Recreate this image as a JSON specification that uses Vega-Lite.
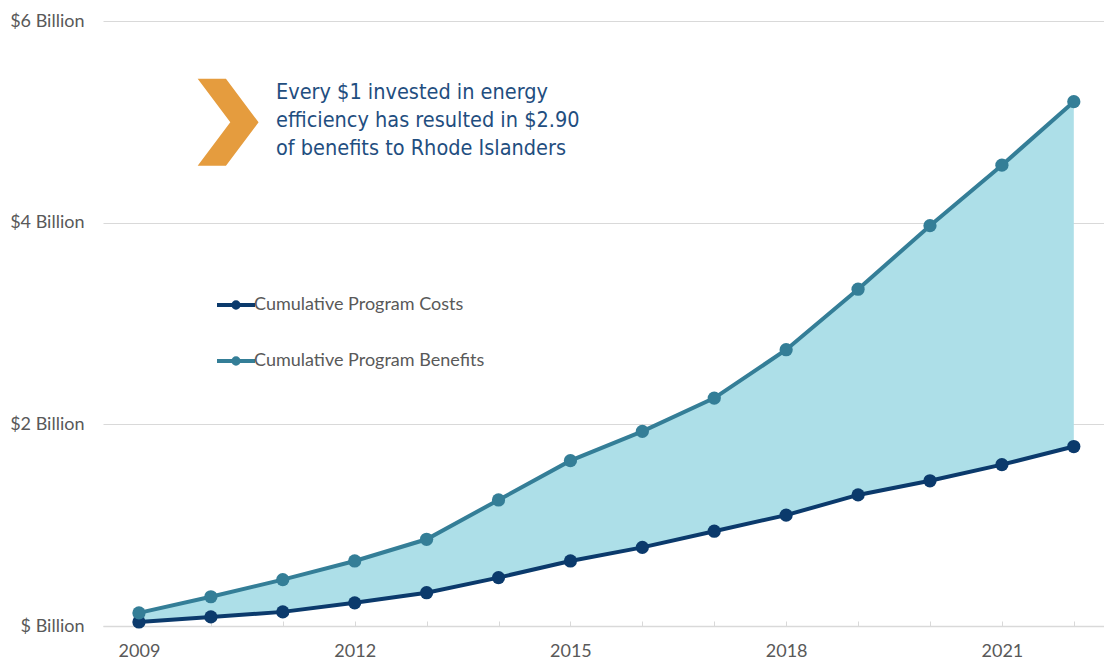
{
  "$schema": "https://vega.github.io/schema/vega-lite/v6.json",
  "width": 1001,
  "height": 605,
  "autosize": {"type": "none"},
  "padding": {"left": 103, "top": 21, "right": 0, "bottom": 35},
  "background": "white",
  "config": {"view": {"stroke": null}, "font": "Lato"},
  "datasets": {
    "wide": [
      {"year": 2009, "costs": 0.04, "benefits": 0.13},
      {"year": 2010, "costs": 0.09, "benefits": 0.29},
      {"year": 2011, "costs": 0.14, "benefits": 0.46},
      {"year": 2012, "costs": 0.23, "benefits": 0.645},
      {"year": 2013, "costs": 0.33, "benefits": 0.86},
      {"year": 2014, "costs": 0.48, "benefits": 1.25},
      {"year": 2015, "costs": 0.645, "benefits": 1.64},
      {"year": 2016, "costs": 0.78, "benefits": 1.93},
      {"year": 2017, "costs": 0.94, "benefits": 2.26},
      {"year": 2018, "costs": 1.10, "benefits": 2.74},
      {"year": 2019, "costs": 1.30, "benefits": 3.34},
      {"year": 2020, "costs": 1.44, "benefits": 3.97},
      {"year": 2021, "costs": 1.60, "benefits": 4.57},
      {"year": 2022, "costs": 1.78, "benefits": 5.20}
    ],
    "chev": [{"x": 2010.24, "y": 4.995}],
    "note": [{"x": 2010.906, "y": 5.286, "label": ["Every $1 invested in energy", "efficiency has resulted in $2.90", "of benefits to Rhode Islanders"]}]
  },
  "layer": [
    {
      "data": {"name": "wide"},
      "mark": {"type": "area", "color": "#ADDFE8", "opacity": 1},
      "encoding": {
        "x": {
          "field": "year", "type": "quantitative",
          "scale": {"domain": [2008.5, 2022.42], "nice": false, "zero": false},
          "axis": {
            "title": null, "grid": false, "format": "d",
            "values": [2009, 2010, 2011, 2012, 2013, 2014, 2015, 2016, 2017, 2018, 2019, 2020, 2021, 2022],
            "labelExpr": "(datum.value - 2009) % 3 == 0 ? datum.label : ''",
            "domainColor": "#d9d9d9", "domainWidth": 1.5,
            "tickColor": "#d9d9d9", "tickSize": -5,
            "labelFontSize": 18, "labelColor": "#595959", "labelPadding": 21, "labelFont": "Lato"
          }
        },
        "y": {
          "field": "benefits", "type": "quantitative",
          "scale": {"domain": [0, 6], "nice": false},
          "axis": {
            "title": null, "values": [0, 2, 4, 6],
            "labelExpr": "datum.value == 0 ? '$ Billion' : '$' + datum.value + ' Billion'",
            "domain": false, "ticks": false, "grid": true, "gridColor": "#d9d9d9", "gridWidth": 1,
            "labelFontSize": 18, "labelColor": "#595959", "labelPadding": 19, "labelFont": "Lato"
          }
        },
        "y2": {"field": "costs"}
      }
    },
    {
      "data": {"name": "wide"},
      "transform": [{"fold": ["costs", "benefits"], "as": ["series", "value"]}],
      "mark": {"type": "line", "strokeWidth": 4},
      "encoding": {
        "x": {"field": "year", "type": "quantitative"},
        "y": {"field": "value", "type": "quantitative"},
        "color": {
          "field": "series", "type": "nominal",
          "scale": {"domain": ["costs", "benefits"], "range": ["#0B3A6C", "#347E97"]},
          "legend": {
            "title": null, "orient": "none", "legendX": 112, "legendY": 263,
            "direction": "vertical", "padding": 0, "rowPadding": 24,
            "symbolType": "M -1 0 L 1 0 M -0.14 0 A 0.14 0.14 0 1 0 0.14 0 A 0.14 0.14 0 1 0 -0.14 0 Z",
            "symbolSize": 1444, "symbolStrokeWidth": 4,
            "labelExpr": "datum.value == 'costs' ? 'Cumulative Program Costs' : 'Cumulative Program Benefits'",
            "labelFontSize": 18, "labelColor": "#595959", "labelOffset": -3, "labelFont": "Lato", "labelLimit": 0,
            "encode": {"symbols": {"update": {"fill": {"scale": "color", "field": "value"}, "opacity": {"value": 1}}}}
          }
        }
      }
    },
    {
      "data": {"name": "wide"},
      "transform": [{"fold": ["costs", "benefits"], "as": ["series", "value"]}],
      "mark": {"type": "point", "filled": true, "opacity": 1, "size": 175, "shape": "circle"},
      "encoding": {
        "x": {"field": "year", "type": "quantitative"},
        "y": {"field": "value", "type": "quantitative"},
        "color": {"field": "series", "type": "nominal"}
      }
    },
    {
      "data": {"name": "chev"},
      "mark": {"type": "point", "filled": true, "opacity": 1, "color": "#E59C3E", "size": 7569,
        "shape": "M -0.70 -1 L -0.05 -1 L 0.70 0 L -0.05 1 L -0.70 1 L 0.05 0 Z"},
      "encoding": {
        "x": {"field": "x", "type": "quantitative"},
        "y": {"field": "y", "type": "quantitative"}
      }
    },
    {
      "data": {"name": "note"},
      "mark": {"type": "text", "align": "left", "baseline": "middle", "lineHeight": 28, "fontSize": 21.5,
        "font": "'DejaVu Sans Condensed', 'Liberation Sans Narrow', Roboto, sans-serif", "color": "#1F4E80"},
      "encoding": {
        "x": {"field": "x", "type": "quantitative"},
        "y": {"field": "y", "type": "quantitative"},
        "text": {"field": "label"}
      }
    }
  ]
}
